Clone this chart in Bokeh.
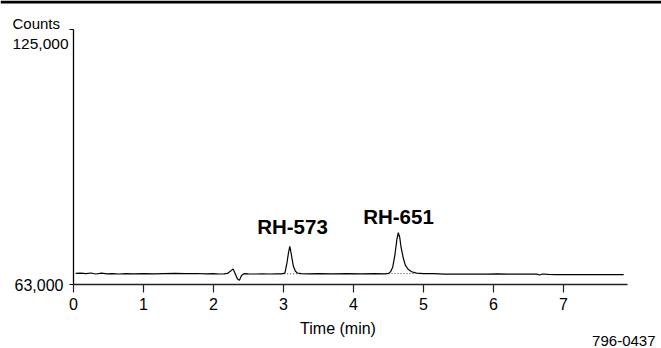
from bokeh.plotting import figure
from bokeh.models import Range1d, FixedTicker, Label, BoxAnnotation
from bokeh.embed import file_html
from bokeh.resources import INLINE

# ---- data ----
time_min = [0.03, 0.1, 0.18, 0.25, 0.32, 0.4, 0.48, 0.55, 0.65, 0.75, 0.85, 1.0, 1.15, 1.3,
            1.45, 1.6, 1.75, 1.9, 2.0, 2.08, 2.15, 2.2, 2.24, 2.28, 2.31, 2.34, 2.37, 2.40,
            2.44, 2.5, 2.6, 2.7, 2.8, 2.9, 2.97, 3.02, 3.05, 3.07, 3.09, 3.11, 3.14, 3.17,
            3.2, 3.25, 3.35, 3.5, 3.7, 3.9, 4.1, 4.3, 4.45, 4.5, 4.53, 4.56, 4.59, 4.62,
            4.64, 4.66, 4.68, 4.71, 4.74, 4.78, 4.83, 4.9, 5.0, 5.15, 5.3, 5.45, 5.6, 5.75,
            5.9, 6.05, 6.2, 6.35, 6.5, 6.62, 6.66, 6.7, 6.78, 6.9, 7.1, 7.3, 7.5, 7.7, 7.86]
counts = [65700, 65750, 65650, 65800, 65550, 65750, 65600, 65650, 65550, 65650, 65600, 65620,
          65600, 65650, 65700, 65650, 65680, 65600, 65620, 65550, 65600, 65700, 66200, 66800,
          65600, 64400, 64000, 65200, 65650, 65600, 65550, 65600, 65550, 65600, 65600, 65750,
          68300, 70600, 72300, 70500, 67500, 66200, 65800, 65650, 65600, 65620, 65600, 65620,
          65600, 65620, 65600, 65700, 66100, 67200, 70000, 74000, 75600, 74500, 72000, 69500,
          67700, 66700, 66100, 65750, 65650, 65650, 65500, 65550, 65500, 65550, 65500, 65600,
          65500, 65550, 65500, 65520, 65300, 65550, 65450, 65420, 65420, 65420, 65420, 65420,
          65420]

# integration baselines under the peaks
base_start = [3.01, 4.50]
base_end = [3.24, 4.88]
base_level = [65600, 65650]

peak_names = ["RH-573", "RH-651"]

x_ticks = [0, 1, 2, 3, 4, 5, 6, 7]
y_min, y_max = 63000, 125000
x_axis_end = 7.91

FONT = "Liberation Sans"
W, H = 661, 348

# pixel <-> data helpers (layout only)
X0_PX, PX_PER_MIN = 73.0, 70.0
Y_BOT_PX, Y_TOP_PX = 284.0, 29.0
def tx(px):
    return (px - X0_PX) / PX_PER_MIN
def cy(py):
    return y_min + (Y_BOT_PX - py) * (y_max - y_min) / (Y_BOT_PX - Y_TOP_PX)

p = figure(width=W, height=H, output_backend="svg", toolbar_location=None,
           x_range=Range1d(tx(0), tx(W)), y_range=Range1d(cy(H), cy(0)),
           min_border_left=0, min_border_right=0, min_border_top=0, min_border_bottom=0)
p.outline_line_color = None
p.xgrid.visible = False
p.ygrid.visible = False
p.background_fill_color = "white"
p.border_fill_color = "white"

# top black rule
p.add_layout(BoxAnnotation(bottom=cy(3), fill_color="black", fill_alpha=1.0, line_color=None))

p.line(time_min, counts, line_color="black", line_width=1.2)
p.segment(x0=base_start, y0=base_level, x1=base_end, y1=base_level,
          line_color="black", line_width=0.8, line_dash="1 2")

# x axis
xa = p.xaxis[0]
xa.fixed_location = y_min
xa.bounds = (0, x_axis_end)
xa.ticker = FixedTicker(ticks=x_ticks)
xa.minor_tick_line_color = None
xa.major_tick_in = 0
xa.major_tick_out = 8
xa.axis_line_width = 1.6
xa.axis_line_color = "#222222"
xa.major_tick_line_color = "#222222"
xa.major_tick_line_width = 1.2
xa.major_label_text_font = FONT
xa.major_label_text_font_size = "16px"
xa.major_label_text_color = "black"
xa.major_label_standoff = 5

# y axis
ya = p.yaxis[0]
ya.fixed_location = 0
ya.bounds = (y_min, y_max)
ya.ticker = FixedTicker(ticks=[y_min, y_max])
ya.minor_tick_line_color = None
ya.major_tick_in = 0
ya.major_tick_out = 4
ya.axis_line_width = 1.3
ya.axis_line_color = "black"
ya.major_tick_line_color = "black"
ya.major_label_overrides = {y_min: "63,000", y_max: ""}
ya.major_label_text_font = FONT
ya.major_label_text_font_size = "16px"
ya.major_label_text_color = "black"
ya.major_label_standoff = 6

def add_label(px, py, text, size, align="center", bold=False):
    p.add_layout(Label(x=tx(px), y=cy(py), text=text, text_font=FONT, text_font_size=size,
                       text_align=align, text_baseline="middle", text_color="black",
                       text_font_style="bold" if bold else "normal"))

add_label(292, 226, peak_names[0], "20.5px", bold=True)
add_label(398, 216, peak_names[1], "20.5px", bold=True)
add_label(12, 23, "Counts", "15px", align="left")
add_label(12, 43, "125,000", "15.5px", align="left")
add_label(337.5, 328, "Time (min)", "16px")
add_label(655, 340.5, "796-0437", "15px", align="right")

open("out.html", "w").write(file_html(p, INLINE))
